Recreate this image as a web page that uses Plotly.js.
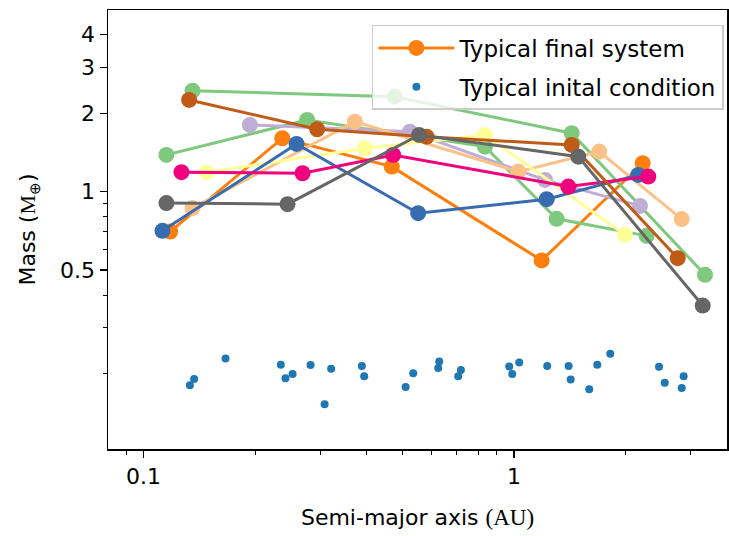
<!DOCTYPE html>
<html>
<head>
<meta charset="utf-8">
<script src="https://cdn.plot.ly/plotly-3.0.1.min.js"></script>
<style>html,body{margin:0;padding:0;background:#fff;}#chart{width:729px;height:536px;}</style>
</head>
<body>
<div id="chart"></div>
<script>
// Semi-major axis (AU) and mass (Earth masses) of each final system
const typicalA = [0.118, 0.237, 0.468, 1.188, 2.226];
const typicalM = [0.702, 1.602, 1.247, 0.544, 1.285];

const greenA_A = [0.1356, 0.477, 1.432, 3.28];
const greenA_M = [2.44, 2.314, 1.675, 0.479];

const greenB_A = [0.1153, 0.2765, 0.835, 1.304, 2.282];
const greenB_M = [1.383, 1.884, 1.488, 0.786, 0.676];

const purpleA = [0.1937, 0.5238, 1.213, 2.189];
const purpleM = [1.803, 1.699, 1.109, 0.881];

const peachA = [0.1356, 0.3721, 1.027, 1.699, 2.837];
const peachM = [0.864, 1.856, 1.193, 1.424, 0.784];

const yellowA = [0.1479, 0.396, 0.835, 1.994];
const yellowM = [1.187, 1.467, 1.65, 0.682];

const blueA = [0.1125, 0.2589, 0.5513, 1.226, 2.166];
const blueM = [0.707, 1.524, 0.826, 0.935, 1.159];

const pinkA = [0.1266, 0.2688, 0.4721, 1.402, 2.305];
const pinkM = [1.187, 1.176, 1.383, 1.045, 1.142];

const brownA = [0.1328, 0.2943, 0.581, 1.432, 2.768];
const brownM = [2.248, 1.735, 1.625, 1.511, 0.555];

const greyA = [0.1153, 0.2448, 0.5548, 1.492, 3.233];
const greyM = [0.903, 0.895, 1.65, 1.362, 0.365];

// Typical initial condition (embryos)
const initA = [0.1334, 0.137, 0.1665, 0.2348, 0.2417, 0.2526, 0.2825, 0.3083, 0.3211, 0.3886,
               0.3943, 0.5101, 0.5347, 0.6286, 0.6246, 0.7073, 0.7192, 0.9712, 1.0335, 0.9895,
               1.23, 1.405, 1.423, 1.597, 1.679, 1.82, 2.464, 2.553, 2.872, 2.837];
const initM = [0.1803, 0.1907, 0.2288, 0.2164, 0.1918, 0.1993, 0.2159, 0.1524, 0.2089, 0.214,
               0.1952, 0.1777, 0.2008, 0.2228, 0.2102, 0.1952, 0.2065, 0.2132, 0.2208, 0.1993,
               0.214, 0.214, 0.19, 0.174, 0.2164, 0.2385, 0.2127, 0.1846, 0.1952, 0.1762];

// Tick labels
const xTickVals = [0.1, 1];
const xTickText = ['0.1', '1'];
const xMinor = [0.09, 0.2, 0.3, 0.4, 0.5, 0.6, 0.7, 0.8, 0.9, 2, 3];
const yTickVals = [0.5, 1, 2, 3, 4];
const yTickText = ['0.5', '1', '2', '3', '4'];
const yMinor = [0.2, 0.3, 0.4, 0.6, 0.7, 0.8, 0.9];

const systems = [
  {a: greenA_A, m: greenA_M, c: '#7fc97f'},
  {a: greenB_A, m: greenB_M, c: '#7fc97f'},
  {a: purpleA, m: purpleM, c: '#beaed4'},
  {a: peachA, m: peachM, c: '#fdc086'},
  {a: yellowA, m: yellowM, c: '#ffff99'},
  {a: blueA, m: blueM, c: '#386cb0'},
  {a: pinkA, m: pinkM, c: '#f0027f'},
  {a: brownA, m: brownM, c: '#bf5b17'},
  {a: greyA, m: greyM, c: '#666666'}
];

const traces = [];
traces.push({
  x: typicalA, y: typicalM, type: 'scatter', mode: 'lines+markers',
  name: 'Typical final system', legendgroup: 'g1',
  line: {color: '#ff7f0e', width: 3}, marker: {color: '#ff7f0e', size: 16}
});
systems.forEach(s => traces.push({
  x: s.a, y: s.m, type: 'scatter', mode: 'lines+markers', showlegend: false,
  line: {color: s.c, width: 3}, marker: {color: s.c, size: 16}
}));
traces.push({
  x: initA, y: initM, type: 'scatter', mode: 'markers',
  name: 'Typical inital condition', legendgroup: 'g2',
  marker: {color: '#1f77b4', size: 8}
});

const font = {family: 'DejaVu Sans', size: 22, color: '#000'};

const layout = {
  width: 729, height: 536,
  margin: {l: 108, r: 2, t: 10, b: 87},
  paper_bgcolor: '#fff', plot_bgcolor: '#fff',
  font: font,
  showlegend: true,
  legend: {
    x: 0.995, y: 0.966, xanchor: 'right', yanchor: 'top',
    bgcolor: 'rgba(255,255,255,0.8)', bordercolor: '#cccccc', borderwidth: 1.5,
    font: {family: 'DejaVu Sans', size: 23, color: '#000'},
    traceorder: 'grouped', tracegroupgap: 6, itemwidth: 76
  },
  xaxis: {
    type: 'log', range: [Math.log10(0.0802), Math.log10(3.76)],
    tickmode: 'array', tickvals: xTickVals, ticktext: xTickText,
    ticks: 'outside', ticklen: 7, tickwidth: 1.3, tickcolor: '#000',
    showline: true, linecolor: '#000', linewidth: 1.5, mirror: true,
    showgrid: false, zeroline: false,
    minor: {tickmode: 'array', tickvals: xMinor, ticks: 'outside', ticklen: 4, tickwidth: 1, tickcolor: '#000', showgrid: false},
    title: {text: 'Semi-major axis <span style="font-family:Liberation Serif;font-size:23px">(AU)</span>', font: font, standoff: 21}
  },
  yaxis: {
    type: 'log', range: [Math.log10(0.1027), Math.log10(4.98)],
    tickmode: 'array', tickvals: yTickVals, ticktext: yTickText,
    ticks: 'outside', ticklen: 7, tickwidth: 1.3, tickcolor: '#000',
    showline: true, linecolor: '#000', linewidth: 1.5, mirror: true,
    showgrid: false, zeroline: false,
    minor: {tickmode: 'array', tickvals: yMinor, ticks: 'outside', ticklen: 4, tickwidth: 1, tickcolor: '#000', showgrid: false},
    title: {text: 'Mass (<span style="font-family:Liberation Serif">M<sub>⊕</sub></span>)', font: font, standoff: 18}
  }
};

Plotly.newPlot('chart', traces, layout, {staticPlot: true, displayModeBar: false});
</script>
</body>
</html>
